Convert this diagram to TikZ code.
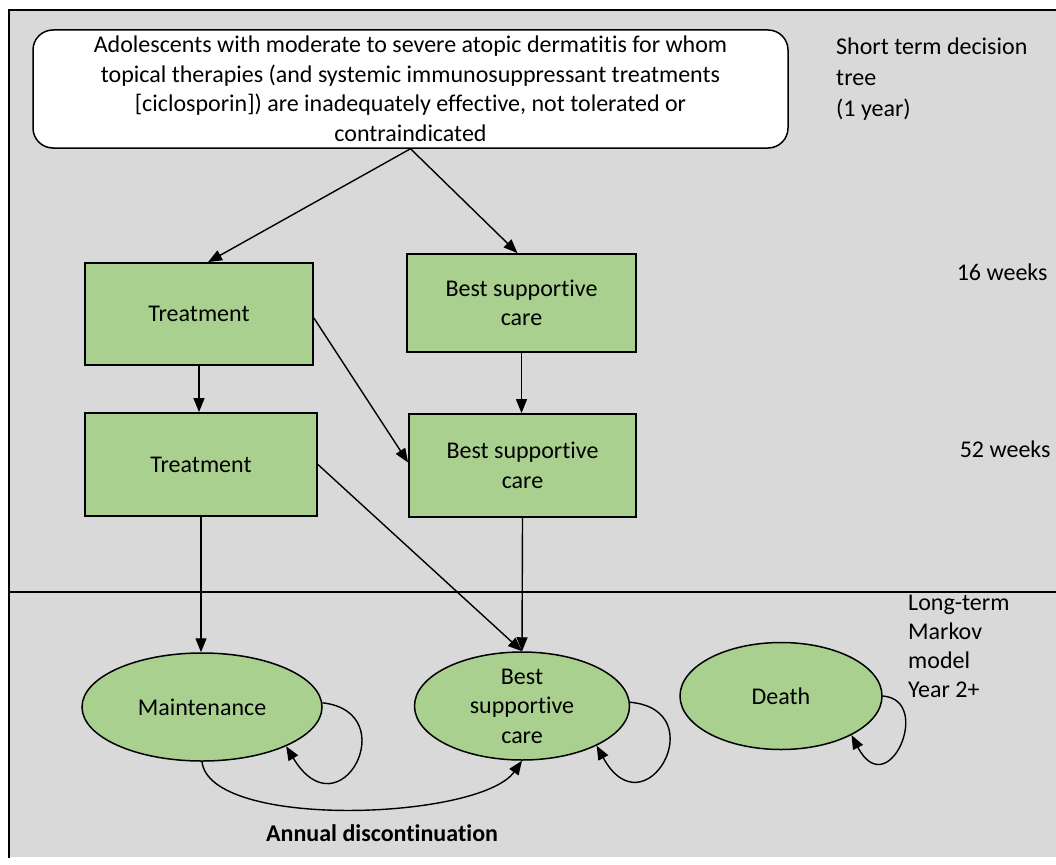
\documentclass[tikz,border=0pt]{standalone}
\usepackage{fontspec}
\setmainfont{Carlito}[Ligatures=NoCommon]
\usetikzlibrary{arrows.meta,shapes.geometric,calc}
\definecolor{bg}{HTML}{D9D9D9}
\definecolor{gfill}{HTML}{A9D08E}
\begin{document}
\begin{tikzpicture}[x=1pt,y=-1pt,
  txt/.style={font=\fontsize{24}{29.5}\selectfont},
  box/.style={txt,draw,line width=1.8pt,fill=gfill,align=center,inner sep=0pt},
  st/.style={txt,ellipse,draw,line width=1.5pt,fill=gfill,align=center,inner sep=0pt},
  arr/.style={-{Triangle[length=14pt,width=11pt]},line width=1.4pt},
  lbl/.style={txt,align=left,inner sep=0pt}]
\path[use as bounding box] (0,0) rectangle (1056,864);
\fill[white] (0,0) rectangle (1056,864);
\fill[bg] (9,10) rectangle (1056,857);
\draw[line width=1.6pt] (9,858) -- (9,10) -- (1056,10);
\draw[line width=1.6pt] (9,592) -- (1056,592);
\node[txt,draw,rounded corners=20pt,fill=white,line width=1.5pt,align=center,
  minimum width=755pt,minimum height=118pt,inner sep=0pt] (top) at (410.5,89)
  {Adolescents with moderate to severe atopic dermatitis for whom\\
   topical therapies (and systemic immunosuppressant treatments\\
   {}[ciclosporin]) are inadequately effective, not tolerated or\\
   contraindicated};
\node[lbl,font=\fontsize{24}{31}\selectfont,anchor=base west] (short) at (836,117) {Short term decision\\tree\\(1 year)};
\node[box,minimum width=228pt,minimum height=102pt] (t1) at (199,314) {Treatment};
\node[box,minimum width=229pt,minimum height=98pt] (b1) at (521.5,303) {Best supportive\\care};
\node[box,minimum width=232pt,minimum height=103pt] (t2) at (201,464.5) {Treatment};
\node[box,minimum width=227pt,minimum height=103pt] (b2) at (522.5,465.5) {Best supportive\\care};
\node[txt,anchor=east] (w16) at (1051,272) {16 weeks};
\node[txt,anchor=east] (w52) at (1054,449) {52 weeks};
\node[st,minimum width=240pt,minimum height=108pt] (m) at (202,707) {Maintenance};
\node[st,minimum width=215pt,minimum height=108pt] (bs) at (522,706) {Best\\supportive\\care};
\node[st,minimum width=202pt,minimum height=107pt] (d) at (781,696) {Death};
\node[lbl,font=\fontsize{24}{29}\selectfont,anchor=base west] (lt) at (908,697) {Long-term\\Markov\\model\\Year 2+};
\node[txt,font=\fontsize{24}{28}\selectfont\bfseries] (ad) at (382,833) {Annual discontinuation};
% connectors
\draw[arr] (top.south) -- ($(t1.north)+(9,0)$);
\draw[arr] (top.south) -- ($(b1.north)+(-4,0)$);
\draw[arr] (t1.south) -- (t1.south |- t2.north);
\draw[arr] (b1.south) -- (b1.south |- b2.north);
\draw[arr] ($(t1.east)+(0,4)$) -- ($(b2.west)+(0,-3)$);
\draw[arr] (t2.east) -- (bs.north);
\draw[arr] (b2.south) -- (bs.north);
\draw[arr] (t2.south) -- (t2.south |- m.north);
\draw[arr] (m.2) .. controls (405,712) and (340,836) .. (m.-25);
\draw[arr] (bs.2) .. controls (715,710) and (645,834) .. (bs.-28);
\draw[arr] (d.east) .. controls (934,700) and (888,805) .. (d.-29);
\draw[arr] (m.south) .. controls (210,830) and (480,820) .. (bs.south);
\end{tikzpicture}
\end{document}
